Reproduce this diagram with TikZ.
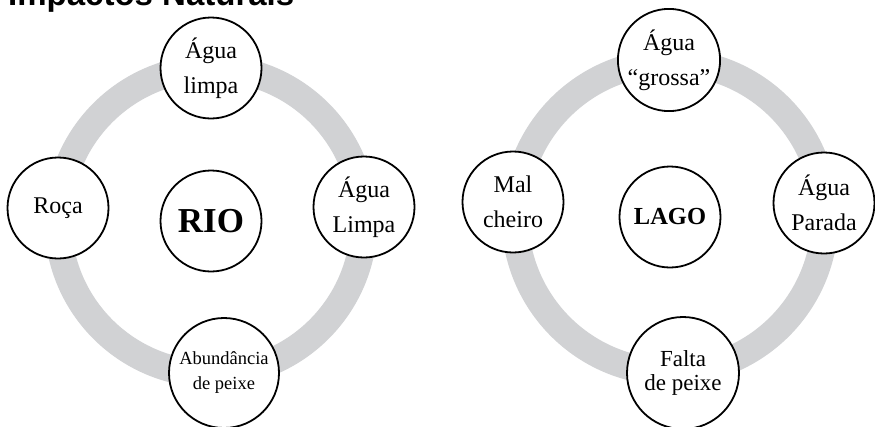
\documentclass[tikz,border=0pt]{standalone}
\usepackage{fontspec}
\setmainfont{Liberation Serif}
\setsansfont{Liberation Sans}
\usepackage{tikz}
\definecolor{ringgray}{RGB}{209,210,212}

\begin{document}
\begin{tikzpicture}[x=1pt,y=-1pt]
\tikzstyle{place}=[circle,draw=black,fill=white,line width=1.8pt,inner sep=0pt,minimum size=101pt,align=center,font=\fontsize{24}{35}\selectfont]
\tikzstyle{ring}=[draw=ringgray,line width=27pt]
\useasboundingbox (0,0) rectangle (875,426);
\clip (0,0) rectangle (875,426);

% Title (cut at the top)
\node (T) [anchor=base west,inner sep=0pt,font=\sffamily\bfseries\fontsize{33}{33}\selectfont] at (8,5) {Impactos Naturais};

% Rio: center, ring, then the four around it
\node (RIO) [place,font=\bfseries\fontsize{35}{35}\selectfont] at (211,221) {RIO};
\draw[ring] (RIO.center) circle [radius=153pt];
\node (AL) [place] at (211,68) {Água\\limpa};
\node (RC) [place] at (58,208) {Roça};
\node (ALR) [place] at (364,207) {Água\\Limpa};
\node (AP) [place,minimum size=110pt,font=\fontsize{18.5}{25}\selectfont] at (224,373) {Abundância\\de peixe};

% Lago: center, ring, then the four around it
\node (LAGO) [place,font=\bfseries\fontsize{24.5}{24.5}\selectfont] at (670,217) {LAGO};
\draw[ring] (LAGO.center) circle [radius=155pt];
\node (AG) [place] at (669,60) {Água\\“grossa”};
\node (MC) [place] at (513,202) {Mal\\cheiro};
\node (APA) [place] at (824,203) {Água\\Parada};
\node (FP) [place,minimum size=112pt,font=\fontsize{23}{24}\selectfont] at (683,373) {Falta\\de peixe};

\end{tikzpicture}
\end{document}
